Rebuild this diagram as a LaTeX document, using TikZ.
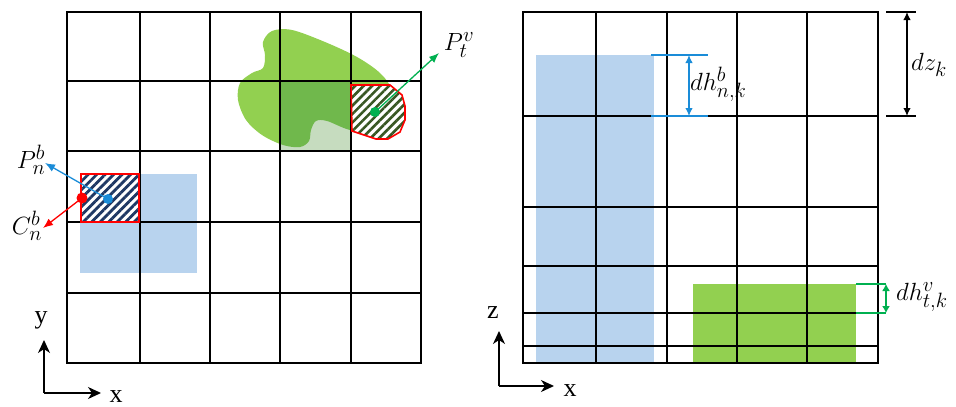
\documentclass[tikz,border=0pt]{standalone}
\usepackage{fontspec}
\usetikzlibrary{arrows.meta,patterns.meta}
\newfontfamily\axfont{Liberation Serif}
\definecolor{lblue}{HTML}{B8D3EE}
\definecolor{lgreen}{HTML}{92D050}
\definecolor{ovgreen}{HTML}{70B84C}
\definecolor{palegreen}{HTML}{C6DCBF}
\definecolor{navyh}{HTML}{1F3864}
\definecolor{hgreen}{HTML}{385723}
\definecolor{arrblue}{HTML}{1A8CD8}
\definecolor{arrgreen}{HTML}{00B050}
\tikzset{
  gthick/.style={line width=2pt, line cap=rect},
  gthin/.style={line width=1.4pt, line cap=rect},
  lbl/.style={inner sep=0pt, font=\fontsize{30}{33}\selectfont},
  axlbl/.style={inner sep=0pt, font=\axfont\fontsize{26}{28}\selectfont},
  axarr/.style={line width=1.3pt, -{Stealth[length=13pt,width=12pt,inset=4pt]}},
  ptarr/.style={line width=1.3pt, -{Latex[length=10pt,width=8pt]}},
  dimarr/.style={line width=1.3pt, {Latex[length=8pt,width=7.5pt]}-{Latex[length=8pt,width=7.5pt]}},
  dimline/.style={line width=1.6pt},
  hatchbox/.style={draw=red, line width=1.6pt, preaction={fill=white}},
}
\begin{document}
\begin{tikzpicture}[x=1pt,y=-1pt]
\useasboundingbox (0,0) rectangle (956,407);

% ---------- left panel fills ----------
\fill[lblue] (80,174) rectangle (197,273);
\def\blob{plot[smooth cycle, tension=0.55] coordinates {(272,31) (292,30) (325,42) (357,57) (380,73) (392,90) (395,115) (375,132) (350,130) (327,121) (316,121) (311,130) (309,141) (300,147) (283,145) (262,135) (246,120) (238,100) (240,83) (252,73) (263,68) (265,55) (263,42)}}
\fill[lgreen] \blob;
\fill[palegreen] (280,81) rectangle (351,151);
\begin{scope}
  \clip (280,81) rectangle (351,151);
  \fill[ovgreen] \blob;
\end{scope}

% ---------- left grid ----------
\foreach \x in {67,140,210,280,351,421} \draw[gthick] (\x,12) -- (\x,363);
\foreach \y in {12,151,293,363} \draw[gthick] (67,\y) -- (421,\y);
\foreach \y in {81,222} \draw[gthin] (67,\y) -- (421,\y);

% hatched cells
\draw[hatchbox, pattern={Lines[angle=45,distance=6pt,line width=2.8pt]}, pattern color=navyh]
  (81,174) rectangle (139,222);
\draw[hatchbox, pattern={Lines[angle=45,distance=6pt,line width=2.6pt]}, pattern color=hgreen]
  (351,85) -- (390,85) -- (402,95) -- (405,106) -- (405,120) -- (400,132) -- (388,139) -- (376,139) -- (352,131) -- cycle;

% points and arrows
\coordinate (pb) at (108,199);
\coordinate (cb) at (82,198);
\coordinate (pv) at (375,112);
\coordinate (pbtip) at (45,163);
\coordinate (cbtip) at (43,228);
\coordinate (pvtip) at (439,53);
\draw[ptarr, arrblue] (pb) -- (pbtip);
\draw[ptarr, red] (cb) -- (cbtip);
\draw[ptarr, arrgreen] (pv) -- (pvtip);
\fill[arrblue] (pb) circle (5pt);
\fill[red] (cb) circle (5.5pt);
\fill[arrgreen] (pv) circle (5pt);
\node[lbl] (Pnb) at (31,160) {$P_n^b$};
\node[lbl] (Cnb) at (27,226) {$C_n^b$};
\node[lbl] (Ptv) at (459,45) {$P_t^v$};

% axes left
\coordinate (o1) at (44,393);
\coordinate (o1y) at (44,340);
\coordinate (o1x) at (101,393);
\draw[axarr] (o1) -- (o1y);
\draw[axarr] (o1) -- (o1x);
\node[axlbl] (ly) at (41,320) {y};
\node[axlbl] (lx1) at (116,397) {x};

% ---------- right panel ----------
\fill[lblue] (536,55) rectangle (654,363);
\fill[lgreen] (693,284) rectangle (856,363);
\foreach \x in {523,596,667,737,807,878} \draw[gthick] (\x,12) -- (\x,363);
\foreach \y in {12,116,207,266,313,363} \draw[gthick] (523,\y) -- (878,\y);
\draw[gthin] (523,346) -- (878,346);

% dh^b
\coordinate (b1l) at (651,55);  \coordinate (b1r) at (708,55);
\coordinate (b2l) at (651,116); \coordinate (b2r) at (708,116);
\draw[dimline, arrblue] (b1l) -- (b1r);
\draw[dimline, arrblue] (b2l) -- (b2r);
\coordinate (ba) at (689,55); \coordinate (bb) at (689,116);
\draw[dimarr, arrblue] (ba) -- (bb);
\node[lbl, anchor=west] (dhb) at (690,84) {$dh_{n,k}^b$};

% dz
\coordinate (z1l) at (886,12);  \coordinate (z1r) at (916,12);
\coordinate (z2l) at (886,116); \coordinate (z2r) at (916,116);
\draw[dimline] (z1l) -- (z1r);
\draw[dimline] (z2l) -- (z2r);
\coordinate (za) at (907,12); \coordinate (zb) at (907,116);
\draw[dimarr] (za) -- (zb);
\node[lbl, anchor=west] (dz) at (911,65) {$dz_k$};

% dh^v
\coordinate (v1l) at (856,284); \coordinate (v1r) at (886,284);
\coordinate (v2l) at (856,313); \coordinate (v2r) at (886,313);
\draw[dimline, arrgreen] (v1l) -- (v1r);
\draw[dimline, arrgreen] (v2l) -- (v2r);
\coordinate (va) at (886,284); \coordinate (vb) at (886,313);
\draw[line width=1.3pt, arrgreen, {Latex[length=7pt,width=8pt]}-{Latex[length=7pt,width=8pt]}] (va) -- (vb);
\node[lbl, anchor=west] (dhv) at (896,297) {$dh_{t,k}^v$};

% axes right
\coordinate (o2) at (499,386);
\coordinate (o2z) at (499,331);
\coordinate (o2x) at (554,386);
\draw[axarr] (o2) -- (o2z);
\draw[axarr] (o2) -- (o2x);
\node[axlbl] (lz) at (493,313) {z};
\node[axlbl] (lx2) at (570,391) {x};
\end{tikzpicture}
\end{document}
